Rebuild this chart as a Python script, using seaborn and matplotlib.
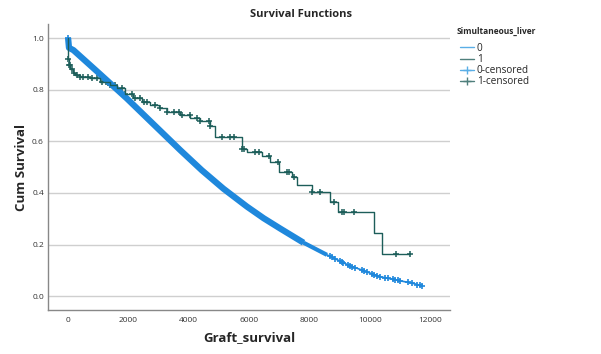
import numpy as np
import pandas as pd
import matplotlib
matplotlib.use("Agg")
import matplotlib.pyplot as plt
from matplotlib.lines import Line2D
import seaborn as sns

# Group 0 (Simultaneous_liver = 0): survival curve
t0 = [0, 30, 177, 1061, 1946, 2830, 3715, 4430, 5152, 5927, 6480, 7030, 7805, 8580, 9297,
      10348, 11453, 11730]
s0 = [1.0, 0.962, 0.953, 0.86, 0.766, 0.666, 0.566, 0.488, 0.416, 0.347, 0.302, 0.262, 0.207,
      0.160, 0.12, 0.075, 0.049, 0.04]
cens0 = [0, 8690, 8750, 8860, 9020, 9080, 9120, 9290, 9350, 9420, 9520, 9750, 9800, 9920,
         10080, 10150, 10250, 10350, 10510, 10610, 10780, 10850, 10950, 11010, 11280, 11410,
         11580, 11650, 11730]

# Group 1 (Simultaneous_liver = 1): step curve
t1 = [0, 5, 10, 30, 80, 150, 232, 398, 730, 1061, 1393, 1615, 1900, 2166, 2450, 2720, 3000,
      3273, 3715, 4050, 4378, 4710, 4876, 5760, 5927, 6423, 6700, 6975, 7420, 7600, 8082,
      8667, 8932, 10130, 10403, 11343]
s1 = [1.0, 0.95, 0.92, 0.895, 0.88, 0.866, 0.857, 0.85, 0.844, 0.83, 0.818, 0.805, 0.785,
      0.766, 0.753, 0.74, 0.727, 0.714, 0.70, 0.69, 0.68, 0.659, 0.617, 0.572, 0.559, 0.543,
      0.52, 0.482, 0.462, 0.43, 0.404, 0.365, 0.327, 0.245, 0.163, 0.163]
cens1 = [10, 30, 66, 120, 200, 288, 398, 500, 674, 800, 951, 1116, 1250, 1393, 1559, 1780,
         1900, 2111, 2222, 2388, 2500, 2609, 2886, 3050, 3273, 3494, 3660, 3770, 4046, 4268,
         4378, 4655, 4710, 5097, 5373, 5484, 5760, 5815, 6202, 6313, 6644, 6942, 7253, 7308,
         7474, 8082, 8358, 8800, 9077, 9132, 9486, 10879, 11343]

blue = "#1f88dc"
teal = "#1d5e5a"

sns.set_theme(style="white")
plt.rcParams["font.family"] = ["Open Sans", "DejaVu Sans"]

df0 = pd.DataFrame({"time": t0, "surv": s0})
df1 = pd.DataFrame({"time": t1, "surv": s1})
c0 = pd.DataFrame({"time": cens0, "surv": np.interp(cens0, t0, s0)})
idx = np.searchsorted(t1, cens1, side="right") - 1
c1 = pd.DataFrame({"time": cens1, "surv": np.array(s1)[idx]})

fig = plt.figure(figsize=(6.01, 3.54), dpi=100)
ax = fig.add_axes([0.08, 0.124, 0.669, 0.808])

# group 0: thin curve; dense censoring shows up as a thick band
sns.lineplot(data=df0, x="time", y="surv", ax=ax, color=blue, lw=1.2, estimator=None, sort=False)
sns.lineplot(data=df0[df0["time"] <= 7805], x="time", y="surv", ax=ax, color=blue, lw=4.5,
             estimator=None, sort=False, solid_capstyle="butt")
sns.lineplot(data=df0[(df0["time"] >= 7805) & (df0["time"] <= 8580)], x="time", y="surv", ax=ax,
             color=blue, lw=3, estimator=None, sort=False, solid_capstyle="butt")
sns.scatterplot(data=c0, x="time", y="surv", ax=ax, color=blue, marker="+", s=22, linewidth=1.2)

# group 1
ax.step(df1["time"], df1["surv"], where="post", color=teal, lw=1.0)
sns.scatterplot(data=c1, x="time", y="surv", ax=ax, color=teal, marker="+", s=18, linewidth=1.1)

ax.set_xlim(-663, 12663)
ax.set_ylim(-0.054, 1.054)
ax.set_xticks([0, 2000, 4000, 6000, 8000, 10000, 12000])
ax.set_yticks([0.0, 0.2, 0.4, 0.6, 0.8, 1.0])
ax.set_yticklabels(["0.0", "0.2", "0.4", "0.6", "0.8", "1.0"])
ax.tick_params(length=0, labelsize=6, colors="#333333")
ax.tick_params(axis="y", pad=3)
ax.tick_params(axis="x", pad=5)
ax.yaxis.grid(True, color="#cfcfcf", lw=1)
ax.set_axisbelow(True)
for side in ["top", "right"]:
    ax.spines[side].set_visible(False)
for side in ["left", "bottom"]:
    ax.spines[side].set_color("#888888")
    ax.spines[side].set_linewidth(1)

ax.set_xlabel("Graft_survival", fontsize=9.5, fontweight="bold", labelpad=5)
ax.set_ylabel("Cum Survival", fontsize=9.5, fontweight="bold", labelpad=3)
fig.suptitle("Survival Functions", fontsize=8, fontweight="bold", x=0.5, y=0.975)

fig.text(0.760, 0.912, "Simultaneous_liver", fontsize=6, fontweight="bold", va="center", ha="left")
handles = [
    Line2D([], [], color="#5aaee6", lw=1),
    Line2D([], [], color="#4f7f7c", lw=1),
    Line2D([], [], color="#5aaee6", lw=1, marker="+", markersize=6),
    Line2D([], [], color="#4f7f7c", lw=1, marker="+", markersize=6),
]
fig.legend(handles, ["0", "1", "0-censored", "1-censored"], loc="upper left",
           bbox_to_anchor=(0.757, 0.893), frameon=False, fontsize=7.2,
           handlelength=1.4, handletextpad=0.3, labelspacing=0.02, borderpad=0)

fig.savefig("out.png", dpi=100)
